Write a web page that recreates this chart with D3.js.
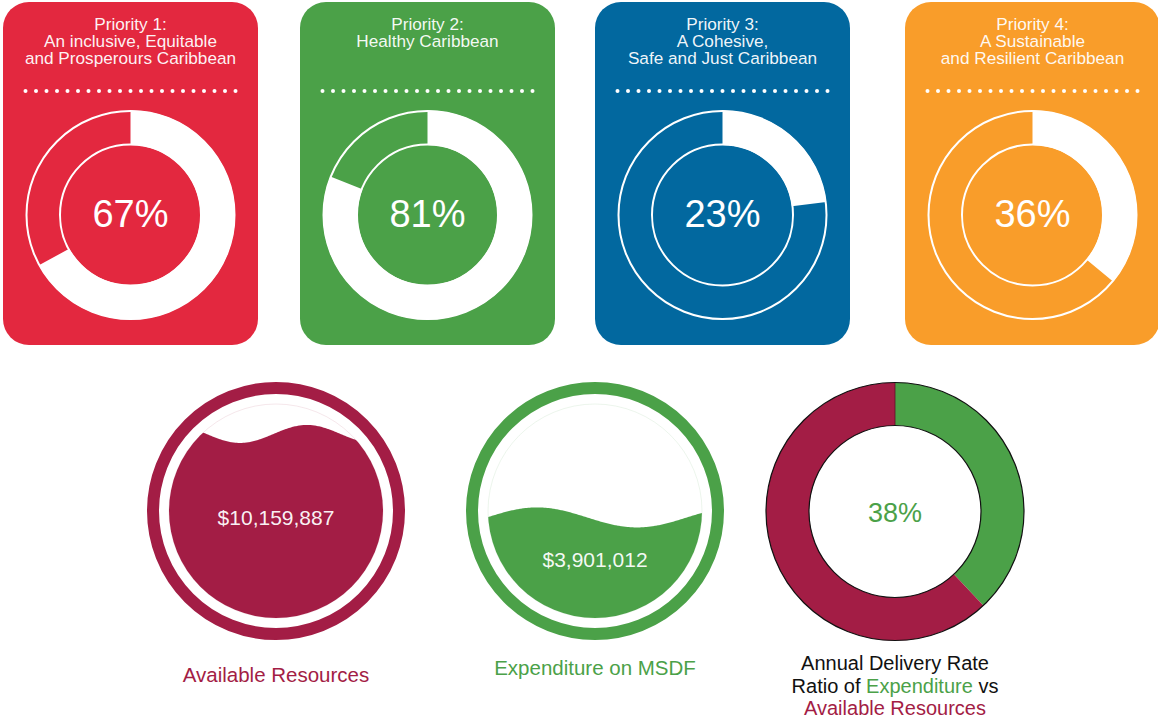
<!DOCTYPE html>
<html>
<head>
<meta charset="utf-8">
<script src="https://cdn.jsdelivr.net/npm/d3@7"></script>
<style>
  html, body { margin: 0; padding: 0; background: #fff; }
  svg { display: block; font-family: "Liberation Sans", Arial, sans-serif; }
</style>
</head>
<body>
<div id="chart"></div>
<script>
// priority cards
const priorityTitles = [
  ['Priority 1:', 'An inclusive, Equitable', 'and Prosperours Caribbean'],
  ['Priority 2:', 'Healthy Caribbean'],
  ['Priority 3:', 'A Cohesive,', 'Safe and Just Caribbean'],
  ['Priority 4:', 'A Sustainable', 'and Resilient Caribbean']
];
const priorityPct = [67, 81, 23, 36];
const priorityColors = ['#E3283F', '#4BA148', '#02689F', '#F99D2A'];

// liquid gauges
const gaugeLabels = ['Available Resources', 'Expenditure on MSDF'];
const gaugeValues = [10159887, 3901012];
const gaugeFill = [0.86, 0.47];
const gaugeColors = ['#A31D45', '#4BA148'];

// delivery rate donut
const deliveryRate = 38;
const deliveryColors = ['#4BA148', '#A31D45'];

const W = 1158, H = 719;
const svg = d3.select('#chart').append('svg').attr('width', W).attr('height', H);

// ---------- top cards ----------
const cardX = [3, 300, 595, 905];
const cardW = 255, cardY = 2, cardH = 343;
const donutCy = 215, rOuter = 104.5, rInner = 70;
const angle = d3.scaleLinear().domain([0, 100]).range([0, 2 * Math.PI]);
const arc = d3.arc().innerRadius(rInner).outerRadius(rOuter);

priorityTitles.forEach((lines, i) => {
  const cx = cardX[i] + cardW / 2;
  const g = svg.append('g');
  g.append('rect').attr('x', cardX[i]).attr('y', cardY).attr('width', cardW).attr('height', cardH)
    .attr('rx', 26).attr('fill', priorityColors[i]);

  const t = g.append('text').attr('text-anchor', 'middle').attr('fill', '#fff').attr('fill-opacity', 0.95)
    .style('font-size', '17.2px');
  lines.forEach((l, j) => t.append('tspan').attr('x', cx).attr('y', 30 + j * 17).text(l));

  const dotX = d3.scaleLinear().domain([0, 20]).range([cx - 105, cx + 105]);
  g.selectAll('circle.dot').data(d3.range(21)).enter().append('circle').attr('class', 'dot')
    .attr('cx', d => dotX(d)).attr('cy', 91).attr('r', 2).attr('fill', '#fff');

  const dg = g.append('g').attr('transform', `translate(${cx},${donutCy})`);
  dg.append('circle').attr('r', rOuter - 0.5).attr('fill', 'none').attr('stroke', '#fff').attr('stroke-width', 2);
  dg.append('circle').attr('r', rInner + 0.5).attr('fill', 'none').attr('stroke', '#fff').attr('stroke-width', 2);
  dg.append('path').attr('d', arc({ startAngle: 0, endAngle: angle(priorityPct[i]) })).attr('fill', '#fff');
  dg.append('text').attr('text-anchor', 'middle').attr('y', 12).attr('fill', '#fff')
    .style('font-size', '38px').text(priorityPct[i] + '%');
});

// ---------- liquid gauges ----------
const gaugeCx = [276, 595], gaugeCy = 511;
const ringR = 123, fillR = 107;
const waves = [{ amp: 9, len: 134, trough: -36 }, { amp: 10, len: 200, trough: 42 }];
const fmt = d3.format('$,');

gaugeValues.forEach((v, i) => {
  const g = svg.append('g').attr('transform', `translate(${gaugeCx[i]},${gaugeCy})`);
  const col = gaugeColors[i];
  const levelY = d3.scaleLinear().domain([0, 1]).range([fillR, -fillR]);
  const ly = levelY(gaugeFill[i]);
  const w = waves[i];

  g.append('circle').attr('r', ringR).attr('fill', 'none').attr('stroke', col).attr('stroke-width', 12);
  g.append('circle').attr('r', fillR).attr('fill', 'none').attr('stroke', col).attr('stroke-opacity', 0.18).attr('stroke-width', 0.6);

  const clipId = 'clip' + i;
  g.append('clipPath').attr('id', clipId).append('circle').attr('r', fillR);
  const wave = d3.area()
    .x(d => d)
    .y0(fillR + 2)
    .y1(d => ly + w.amp * Math.cos(2 * Math.PI * (d - w.trough) / w.len));
  g.append('path').attr('clip-path', `url(#${clipId})`)
    .attr('d', wave(d3.range(-fillR - 2, fillR + 3, 1))).attr('fill', col);

  g.append('text').attr('text-anchor', 'middle').attr('y', (ly + fillR) / 2 - 1)
    .attr('fill', '#fff').attr('fill-opacity', 0.95).style('font-size', '21px').text(fmt(v));

  svg.append('text').attr('x', gaugeCx[i]).attr('y', i === 0 ? 682 : 675).attr('text-anchor', 'middle')
    .attr('fill', col).style('font-size', '20.5px').text(gaugeLabels[i]);
});

// ---------- delivery rate donut ----------
const dCx = 895, dCy = 511.5, dOuter = 129, dInner = 86;
const pie = d3.pie().sort(null).value(d => d);
const dArc = d3.arc().innerRadius(dInner).outerRadius(dOuter);
const dg = svg.append('g').attr('transform', `translate(${dCx},${dCy})`);
dg.selectAll('path').data(pie([deliveryRate, 100 - deliveryRate])).enter().append('path')
  .attr('d', dArc).attr('fill', (d, i) => deliveryColors[i]);
dg.append('line').attr('x1', 0).attr('x2', 0).attr('y1', -dOuter).attr('y2', -dInner)
  .attr('stroke', '#5a1226').attr('stroke-width', 0.8);
dg.append('circle').attr('r', dOuter).attr('fill', 'none').attr('stroke', '#111').attr('stroke-width', 1.2);
dg.append('circle').attr('r', dInner).attr('fill', 'none').attr('stroke', '#111').attr('stroke-width', 1.2);
dg.append('text').attr('text-anchor', 'middle').attr('y', 10.5).attr('fill', deliveryColors[0])
  .style('font-size', '27px').text(deliveryRate + '%');

const lab = svg.append('text').attr('text-anchor', 'middle').style('font-size', '20px').attr('fill', '#111');
lab.append('tspan').attr('x', dCx).attr('y', 670).text('Annual Delivery Rate');
const l2 = lab.append('tspan').attr('x', dCx).attr('y', 692.5);
l2.append('tspan').text('Ratio of ');
l2.append('tspan').attr('fill', deliveryColors[0]).text('Expenditure');
l2.append('tspan').text(' vs');
lab.append('tspan').attr('x', dCx).attr('y', 715).attr('fill', deliveryColors[1]).text('Available Resources');
</script>
</body>
</html>
